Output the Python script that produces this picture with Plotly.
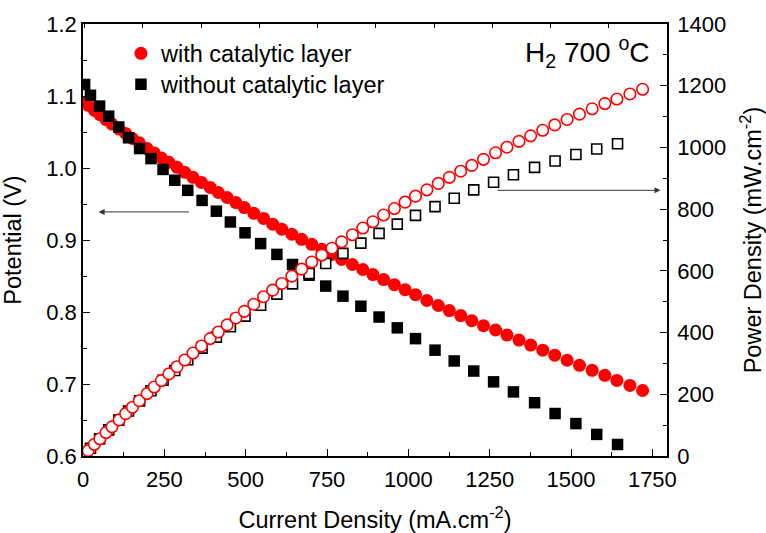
import plotly.graph_objects as go

# ---- data ----
cur_with = [6, 16, 35, 52, 71, 89, 111, 131, 152, 173, 197, 219, 241, 264, 289, 313, 338, 364, 391, 416,
            443, 470, 496, 525, 555, 583, 611, 642, 672, 703, 734, 765, 795, 828, 860, 891, 924, 957, 990, 1022,
            1057, 1092, 1126, 1161, 1195, 1231, 1268, 1303, 1340, 1376, 1413, 1450, 1488, 1526, 1565, 1604, 1641, 1681, 1720]
pot_with = [1.091, 1.087, 1.080, 1.074, 1.067, 1.061, 1.054, 1.048, 1.041, 1.035, 1.027, 1.021, 1.014, 1.008, 1.001,
            0.994, 0.987, 0.980, 0.973, 0.966, 0.959, 0.952, 0.945, 0.937, 0.930, 0.922, 0.915, 0.908, 0.901, 0.894,
            0.887, 0.880, 0.873, 0.866, 0.859, 0.852, 0.845, 0.838, 0.831, 0.824, 0.816, 0.809, 0.802, 0.795, 0.788,
            0.781, 0.775, 0.768, 0.761, 0.754, 0.747, 0.740, 0.733, 0.726, 0.719, 0.712, 0.705, 0.698, 0.691]
pow_with = [6.5, 17.4, 37.8, 55.8, 75.8, 94.4, 117.0, 137.3, 158.2, 179.1, 202.3, 223.6, 244.4, 266.1, 289.3,
            311.1, 333.6, 356.7, 380.4, 401.9, 424.8, 447.4, 468.7, 491.9, 516.2, 537.5, 559.1, 582.9, 605.5, 628.5,
            651.1, 673.2, 694.0, 717.0, 738.7, 759.1, 780.8, 802.0, 822.7, 842.1, 862.5, 883.4, 903.1, 923.0, 941.7,
            961.4, 982.7, 1000.7, 1019.7, 1037.5, 1055.5, 1073.0, 1090.7, 1107.9, 1125.2, 1142.0, 1156.9, 1173.3, 1188.5]

cur_without = [5, 23, 51, 79, 110, 140, 174, 209, 246, 282, 322, 366, 410, 453, 498, 546, 596, 644, 695, 746,
               799, 854, 910, 966, 1022, 1082, 1141, 1201, 1262, 1323, 1388, 1451, 1515, 1579, 1643]
pot_without = [1.116, 1.101, 1.086, 1.072, 1.057, 1.042, 1.027, 1.013, 0.998, 0.983, 0.969, 0.955, 0.940, 0.925,
               0.910, 0.895, 0.880, 0.866, 0.851, 0.836, 0.822, 0.808, 0.793, 0.778, 0.763, 0.747, 0.732, 0.718,
               0.703, 0.689, 0.674, 0.659, 0.645, 0.630, 0.616]
pow_without = [5.6, 25.3, 55.4, 84.7, 116.3, 145.9, 178.7, 211.7, 245.5, 277.2, 312.0, 349.5, 385.4, 419.0, 453.2,
               488.7, 524.5, 557.7, 591.4, 623.7, 656.8, 690.0, 721.6, 751.5, 779.8, 808.3, 835.2, 862.3, 887.2,
               911.5, 935.5, 956.2, 977.2, 994.8, 1012.1]

x_ticks = [0, 250, 500, 750, 1000, 1250, 1500, 1750]
FONT = "Arial, Liberation Sans, sans-serif"
RED = "#ff0000"
TICK_SIZE = 22
TITLE_SIZE = 23.5

fig = go.Figure()
fig.add_trace(go.Scatter(x=cur_with, y=pot_with, mode="markers", name="with catalytic layer",
                         marker=dict(symbol="circle", size=13, color=RED, line=dict(width=0)),
                         legend="legend"))
fig.add_trace(go.Scatter(x=cur_without, y=pot_without, mode="markers", name="without catalytic layer",
                         marker=dict(symbol="square", size=11.5, color="black", line=dict(width=0)),
                         legend="legend2"))
fig.add_trace(go.Scatter(x=cur_without, y=pow_without, mode="markers", yaxis="y2", showlegend=False,
                         marker=dict(symbol="square", size=10, color="white", line=dict(width=1.6, color="black"))))
fig.add_trace(go.Scatter(x=cur_with, y=pow_with, mode="markers", yaxis="y2", showlegend=False,
                         marker=dict(symbol="circle", size=11.5, color="white", line=dict(width=1.6, color=RED))))
# carrier for the top tick axis
fig.add_trace(go.Scatter(x=[None], y=[None], xaxis="x2", yaxis="y", showlegend=False, hoverinfo="skip"))

axis_common = dict(showline=True, linecolor="black", linewidth=1.6, ticks="inside", tickcolor="black",
                   tickwidth=1.4, ticklen=7, showgrid=False, zeroline=False,
                   tickfont=dict(family=FONT, size=TICK_SIZE, color="black"))

fig.update_layout(
    width=766, height=533,
    margin=dict(l=83, r=99, t=22, b=77),
    paper_bgcolor="white", plot_bgcolor="white",
    font=dict(family=FONT, color="black"),
    xaxis=dict(range=[0, 1795], tickvals=x_ticks, ticktext=[str(v) for v in x_ticks],
               automargin="left+right", ticklabelstandoff=3,
               minor=dict(ticks="inside", ticklen=4, tickwidth=1.4, tickcolor="black", dtick=125, tick0=0),
               title=dict(text="Current Density (mA.cm<sup>-2</sup>)", font=dict(family=FONT, size=TITLE_SIZE),
                          standoff=24),
               **axis_common),
    xaxis2=dict(overlaying="x", side="top", range=[-0.03, 10], dtick=1, tick0=0, showticklabels=False,
                showline=True, linecolor="black", linewidth=1.6, ticks="inside", ticklen=4, tickwidth=1.4,
                tickcolor="black", showgrid=False, zeroline=False),
    yaxis=dict(range=[0.6, 1.2], dtick=0.1, tick0=0.6, tickformat=".1f", automargin="top+bottom",
               minor=dict(ticks="inside", ticklen=4, tickwidth=1.4, tickcolor="black", dtick=0.05),
               title=dict(text="Potential (V)", font=dict(family=FONT, size=TITLE_SIZE), standoff=18),
               **axis_common),
    yaxis2=dict(overlaying="y", side="right", range=[0, 1400], dtick=200, tick0=0,
                automargin="top+bottom", ticklabelstandoff=4,
                minor=dict(ticks="inside", ticklen=4, tickwidth=1.4, tickcolor="black", dtick=100),
                title=dict(text="Power Density (mW.cm<sup>-2</sup>)", font=dict(family=FONT, size=TITLE_SIZE),
                           standoff=24),
                **axis_common),
    legend=dict(x=0.065, y=0.9316, xanchor="left", yanchor="middle", bgcolor="rgba(0,0,0,0)",
                font=dict(family=FONT, size=23.5, color="black")),
    legend2=dict(x=0.065, y=0.860, xanchor="left", yanchor="middle", bgcolor="rgba(0,0,0,0)",
                 font=dict(family=FONT, size=23.5, color="black")),
    annotations=[
        dict(text="H<sub>2</sub> 700 <sup>o</sup>C", xref="paper", yref="paper", x=0.975, y=0.936,
             xanchor="right", yanchor="middle", showarrow=False, font=dict(family=FONT, size=28, color="black")),
        dict(x=48, y=0.939, ax=330, ay=0.939, xref="x", yref="y", axref="x", ayref="y",
             showarrow=True, arrowhead=2, arrowsize=1.2, arrowwidth=1, arrowcolor="#333333", text=""),
        dict(x=1775, y=861, ax=1270, ay=861, xref="x", yref="y2", axref="x", ayref="y2",
             showarrow=True, arrowhead=2, arrowsize=1.2, arrowwidth=1, arrowcolor="#333333", text=""),
    ],
)

fig.write_html("out.html", config={"displayModeBar": False},
               post_script="document.body.style.margin='0';")
